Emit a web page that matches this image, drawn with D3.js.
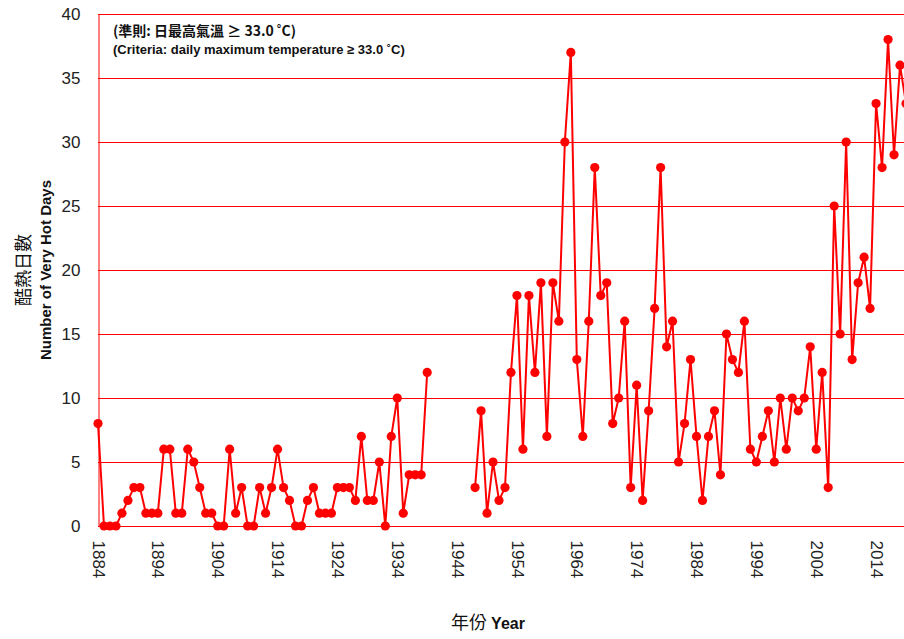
<!DOCTYPE html>
<html>
<head>
<meta charset="utf-8">
<script src="https://cdn.jsdelivr.net/npm/d3@7"></script>
<style>
  body { margin: 0; background: #fff; }
  svg { display: block; }
  .tick text { font-family: "Liberation Sans", "Open Sans", sans-serif; fill: #222; }
</style>
</head>
<body>
<svg id="chart" width="904" height="639"></svg>
<script>
// Number of very hot days per year (null = no record, 1940-1946)
var firstYear = 1884;
var hotDays = [
  8, 0, 0, 0, 1, 2, 3, 3, 1, 1,          // 1884-1893
  1, 6, 6, 1, 1, 6, 5, 3, 1, 1,          // 1894-1903
  0, 0, 6, 1, 3, 0, 0, 3, 1, 3,          // 1904-1913
  6, 3, 2, 0, 0, 2, 3, 1, 1, 1,          // 1914-1923
  3, 3, 3, 2, 7, 2, 2, 5, 0, 7,          // 1924-1933
  10, 1, 4, 4, 4, 12, null, null, null, null, // 1934-1943
  null, null, null, 3, 9, 1, 5, 2, 3, 12, // 1944-1953
  18, 6, 18, 12, 19, 7, 19, 16, 30, 37,  // 1954-1963
  13, 7, 16, 28, 18, 19, 8, 10, 16, 3,   // 1964-1973
  11, 2, 9, 17, 28, 14, 16, 5, 8, 13,    // 1974-1983
  7, 2, 7, 9, 4, 15, 13, 12, 16, 6,      // 1984-1993
  5, 7, 9, 5, 10, 6, 10, 9, 10, 14,      // 1994-2003
  6, 12, 3, 25, 15, 30, 13, 19, 21, 17,  // 2004-2013
  33, 28, 38, 29, 36, 33                 // 2014-2019
];
var years = d3.range(firstYear, firstYear + hotDays.length);
var xTicks = [1884, 1894, 1904, 1914, 1924, 1934, 1944, 1954, 1964, 1974, 1984, 1994, 2004, 2014];
var yTicks = [0, 5, 10, 15, 20, 25, 30, 35, 40];

var svg = d3.select("#chart"),
    width = +svg.attr("width");

var x = d3.scaleLinear()
    .domain([1884, 2019])
    .range([98, 906]);

var y = d3.scaleLinear()
    .domain([0, 40])
    .range([526, 14]);

var red = "#ff0000";

// horizontal grid lines
svg.append("g")
    .attr("class", "grid")
  .selectAll("line")
  .data(yTicks)
  .enter().append("line")
    .attr("x1", x(1884))
    .attr("x2", width)
    .attr("y1", function(d) { return Math.round(y(d)) + 0.5; })
    .attr("y2", function(d) { return Math.round(y(d)) + 0.5; })
    .attr("stroke", red)
    .attr("stroke-width", 1);

// y axis
var gy = svg.append("g")
    .attr("transform", "translate(" + (x(1884) + 0.5) + ",0.5)")
    .call(d3.axisLeft(y).tickValues(yTicks).tickSize(0).tickPadding(18));
gy.select(".domain").attr("stroke", red);
gy.selectAll(".tick text").attr("font-size", 17);

// x axis, labels turned to read downwards
var gx = svg.append("g")
    .attr("transform", "translate(0," + (y(0) + 0.5) + ")")
    .call(d3.axisBottom(x).tickValues(xTicks).tickSize(0).tickFormat(d3.format("d")));
gx.select(".domain").remove();
gx.selectAll(".tick text")
    .attr("font-size", 17)
    .attr("transform", "rotate(90)")
    .attr("text-anchor", "start")
    .attr("x", 14)
    .attr("y", 0)
    .attr("dy", "0.35em");

// the line, broken where there are no records
var line = d3.line()
    .defined(function(d) { return d != null; })
    .x(function(d, i) { return x(years[i]); })
    .y(function(d) { return y(d); });

svg.append("path")
    .datum(hotDays)
    .attr("fill", "none")
    .attr("stroke", red)
    .attr("stroke-width", 2)
    .attr("stroke-linejoin", "round")
    .attr("d", line);

svg.append("g")
  .selectAll("circle")
  .data(years.filter(function(d, i) { return hotDays[i] != null; }))
  .enter().append("circle")
    .attr("cx", function(d) { return x(d); })
    .attr("cy", function(d) { return y(hotDays[d - firstYear]); })
    .attr("r", 4.6)
    .attr("fill", red);

// criteria note
svg.append("text")
    .attr("x", 113)
    .attr("y", 36)
    .attr("font-family", "'Noto Sans CJK TC', 'Liberation Sans', sans-serif")
    .attr("font-size", 14)
    .attr("font-weight", "bold")
    .attr("fill", "#111")
    .text("(準則: 日最高氣溫 ≥ 33.0 ˚C)");

svg.append("text")
    .attr("x", 113)
    .attr("y", 54)
    .attr("font-family", "'Liberation Sans', sans-serif")
    .attr("font-size", 13)
    .attr("font-weight", "bold")
    .attr("fill", "#111")
    .text("(Criteria: daily maximum temperature ≥ 33.0 ˚C)");

// axis titles
var yTitle = svg.append("text")
    .attr("transform", "translate(0,270) rotate(-90)")
    .attr("text-anchor", "middle")
    .attr("fill", "#111");
yTitle.append("tspan")
    .attr("x", 0)
    .attr("y", 30)
    .attr("font-family", "'Noto Sans CJK TC', sans-serif")
    .attr("font-size", 18)
    .text("酷熱日數");
yTitle.append("tspan")
    .attr("x", 0)
    .attr("y", 51)
    .attr("font-family", "'Liberation Sans', sans-serif")
    .attr("font-size", 15)
    .attr("font-weight", "bold")
    .text("Number of Very Hot Days");

var xTitle = svg.append("text")
    .attr("x", 488)
    .attr("y", 629)
    .attr("text-anchor", "middle")
    .attr("fill", "#111");
xTitle.append("tspan")
    .attr("font-family", "'Noto Sans CJK TC', sans-serif")
    .attr("font-size", 18)
    .text("年份 ");
xTitle.append("tspan")
    .attr("font-family", "'Liberation Sans', sans-serif")
    .attr("font-size", 16)
    .attr("font-weight", "bold")
    .text("Year");
</script>
</body>
</html>
